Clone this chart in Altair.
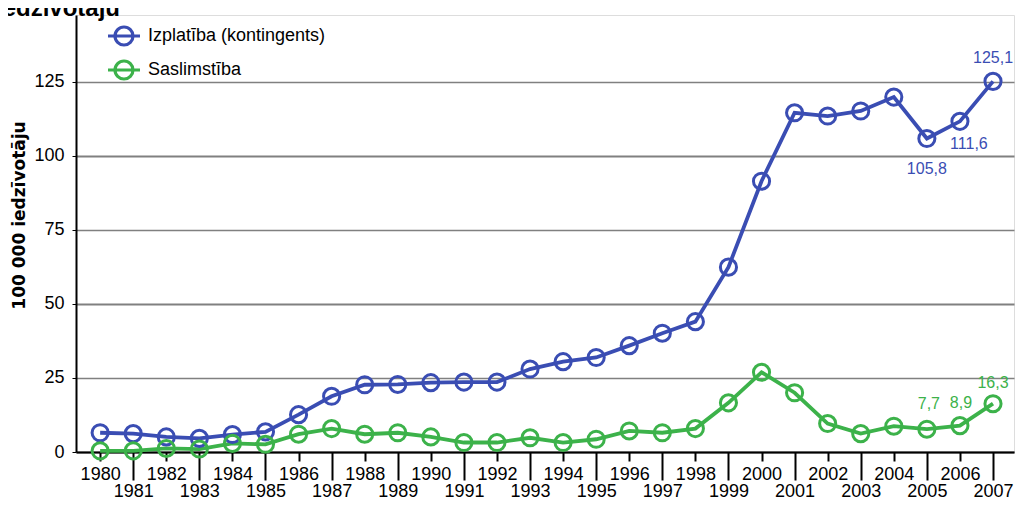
import altair as alt
import pandas as pd

years = list(range(1980, 2008))
izplatiba = [6.5, 6.2, 5.1, 4.6, 5.9, 6.8, 12.6, 18.8, 22.7, 22.8, 23.4, 23.6, 23.6,
             28.0, 30.5, 31.9, 35.9, 40.1, 44.0, 62.4, 91.4, 114.5, 113.4, 115.1,
             119.8, 105.8, 111.6, 125.1]
saslimstiba = [0.4, 0.4, 1.2, 1.0, 2.9, 2.6, 6.0, 7.9, 6.0, 6.5, 5.1, 3.2, 3.2,
               4.8, 3.2, 4.3, 7.1, 6.5, 7.9, 16.6, 26.9, 20.0, 9.6, 6.2, 8.7,
               7.7, 8.9, 16.3]
series_names = ["Izplatība (kontingents)", "Saslimstība"]
y_ticks = [0, 25, 50, 75, 100, 125]

BLUE = "#3a4db3"
GREEN = "#3cb24a"
FONT = "Liberation Sans"

df = pd.DataFrame({
    "year": years * 2,
    "value": izplatiba + saslimstiba,
    "series": [series_names[0]] * len(years) + [series_names[1]] * len(years),
})

legend_path = ("M-1,0L1,0M0.5625,0A0.5625,0.5625,0,1,1,-0.5625,0"
               "A0.5625,0.5625,0,1,1,0.5625,0")

x_enc = alt.X(
    "year:Q",
    scale=alt.Scale(domain=[1979.27, 2007.635], nice=False, zero=False),
    axis=alt.Axis(
        values=years, format="d", title=None, grid=False,
        labelFont=FONT, labelFontSize=18, labelColor="black",
        labelFlush=False, labelOverlap=False,
        domainColor="black", domainWidth=2,
        tickColor="black", tickWidth=2,
        tickSize={"condition": {"test": "datum.value % 2 == 1", "value": 28}, "value": 9},
        labelPadding={"condition": {"test": "datum.value % 2 == 1", "value": 2}, "value": 4},
    ),
)
y_enc = alt.Y(
    "value:Q",
    scale=alt.Scale(domain=[0, 147.5], nice=False),
    axis=alt.Axis(
        values=y_ticks, title="100 000 iedzīvotāju",
        titleFont="DejaVu Sans", titleFontSize=17, titleFontWeight="bold",
        titleColor="black", titleY=200, titlePadding=5,
        labelFont=FONT, labelFontSize=18, labelColor="black", labelPadding=8,
        domainColor="black", domainWidth=2,
        tickColor="black", tickSize=4, tickWidth=1,
        grid=True, gridColor="#808080",
        gridWidth={"condition": {"test": "datum.value % 50 == 0", "value": 2.2}, "value": 1.3},
    ),
)
legend = alt.Legend(
    title=None, orient="none", legendX=30, legendY=3, padding=0,
    symbolType=legend_path, symbolSize=1024, symbolStrokeWidth=3.2,
    symbolOpacity=1, labelLimit=0,
    labelFont=FONT, labelFontSize=18, labelColor="black", labelOffset=6,
    rowPadding=0,
)
color_enc = alt.Color(
    "series:N",
    scale=alt.Scale(domain=series_names, range=[BLUE, GREEN]),
    legend=legend,
)

base = alt.Chart(df)
lines = base.mark_line(strokeWidth=3.8).encode(x=x_enc, y=y_enc, color=color_enc)
points = base.mark_point(shape="circle", filled=False, size=260, strokeWidth=3,
                         opacity=1).encode(x=x_enc, y=y_enc, color=color_enc)


def value_label(series, year, color, dx, dy):
    return (
        base.transform_filter(
            (alt.datum.series == series) & (alt.datum.year == year)
        )
        .transform_calculate(lbl="replace(format(datum.value, '.1f'), '.', ',')")
        .mark_text(dx=dx, dy=dy, font=FONT, fontSize=16, color=color)
        .encode(x=x_enc, y=y_enc, text="lbl:N")
    )


labels = [
    value_label(series_names[0], 2007, BLUE, 0, -23),
    value_label(series_names[0], 2006, BLUE, 9, 23),
    value_label(series_names[0], 2005, BLUE, 0, 30),
    value_label(series_names[1], 2007, GREEN, 0, -21),
    value_label(series_names[1], 2006, GREEN, 1, -23),
    value_label(series_names[1], 2005, GREEN, 2, -25),
]

chart = (
    alt.layer(lines, points, *labels)
    .properties(
        width=938, height=437,
        autosize=alt.AutoSizeParams(type="none"),
        padding={"left": 68, "top": 7, "right": 1, "bottom": 48},
        title=alt.TitleParams(
            "iedzīvotāju", anchor="start", frame="group", font=FONT, fontSize=24,
            fontWeight="bold", color="black", offset=0, dx=-80, dy=30,
            baseline="bottom",
        ),
    )
    .configure_view(stroke="black", strokeWidth=2, strokeOpacity=1)
    .configure(background="white")
)

chart.save("out.html", embed_options={"renderer": "svg", "actions": False})
